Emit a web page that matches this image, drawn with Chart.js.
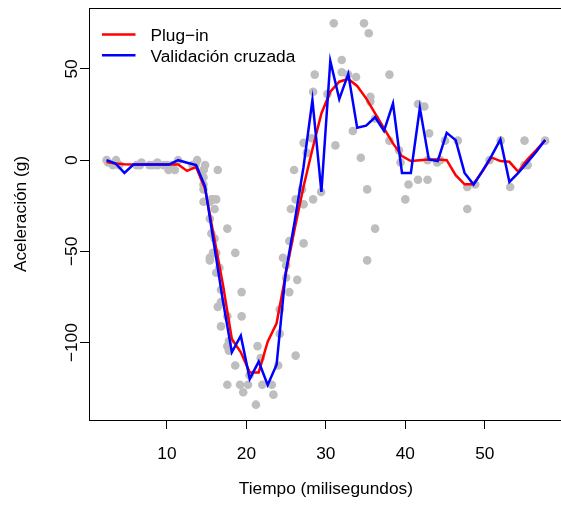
<!DOCTYPE html>
<html>
<head>
<meta charset="utf-8">
<script src="https://cdn.jsdelivr.net/npm/chart.js@4/dist/chart.umd.min.js"></script>
<style>
html,body{margin:0;padding:0;overflow:hidden;background:#fff;}
#wrap{width:567px;height:505px;}
</style>
</head>
<body>
<div id="wrap"><canvas id="c" width="567" height="505"></canvas></div>
<script>
// mcycle data (time in ms, acceleration in g)
const times = [2.4,2.6,3.2,3.6,4.0,6.2,6.6,6.8,7.8,8.2,8.8,8.8,9.6,10.0,10.2,
10.6,11.0,11.4,13.2,13.6,13.8,14.6,14.6,14.6,14.6,14.6,14.6,14.8,15.4,15.4,
15.4,15.4,15.6,15.6,15.8,15.8,16.0,16.0,16.2,16.2,16.2,16.4,16.4,16.6,16.8,
16.8,16.8,17.6,17.6,17.6,17.6,17.8,17.8,18.6,18.6,19.2,19.4,19.4,19.6,20.2,
20.4,21.2,21.4,21.8,22.0,23.2,23.4,24.0,24.2,24.2,24.6,25.0,25.0,25.4,25.4,
25.6,26.0,26.2,26.2,26.4,27.0,27.2,27.2,27.2,27.6,28.2,28.4,28.4,28.6,29.4,
30.2,31.0,31.2,32.0,32.0,32.8,33.4,33.8,34.4,34.8,35.2,35.2,35.4,35.6,35.6,
36.2,36.2,38.0,38.0,39.2,39.4,40.0,40.4,41.6,41.6,42.4,42.8,42.8,43.0,44.0,
44.4,45.0,46.6,47.8,47.8,48.8,50.6,52.0,53.2,55.0,55.0,55.4,57.6];
const accel = [0.0,-1.3,-2.7,0.0,-2.7,-2.7,-2.7,-1.3,-2.7,-2.7,
-1.3,-2.7,-2.7,-2.7,-5.4,-2.7,-5.4,0.0,-2.7,-2.7,
0.0,-13.3,-5.4,-5.4,-9.3,-16.0,-22.8,-2.7,-22.8,-32.1,
-53.5,-54.9,-40.2,-21.5,-21.5,-50.8,-42.9,-26.8,-21.5,-50.8,
-61.7,-5.4,-80.4,-59.0,-71.0,-91.1,-77.7,-37.5,-85.6,-123.1,
-101.9,-99.1,-104.4,-112.5,-50.8,-123.1,-85.6,-72.3,-127.2,-123.1,
-117.9,-134.0,-101.9,-108.4,-123.1,-123.1,-128.5,-112.5,-95.1,-81.8,
-53.5,-64.4,-57.6,-72.3,-44.3,-26.8,-5.4,-107.1,-21.5,-65.6,
-16.0,-45.6,-24.2,9.5,4.0,12.0,-21.5,37.5,46.9,-17.4,
36.2,75.0,8.1,54.9,48.2,46.9,16.0,45.6,1.3,75.0,
-16.0,-54.9,69.6,34.8,32.1,-37.5,22.8,46.9,10.7,5.4,
-1.3,-21.5,-13.3,30.8,-10.7,29.4,0.0,-10.7,14.7,-1.3,
0.0,10.7,10.7,-26.8,-14.7,-13.3,0.0,10.7,-14.7,-2.7,
10.7,-2.7,10.7];

// evaluation grid of the smoothers
const gridX = [2.40,3.53,4.65,5.78,6.91,8.03,9.16,10.29,11.41,12.54,
13.67,14.79,15.92,17.04,18.17,19.30,20.42,21.55,22.68,23.80,
24.93,26.06,27.18,28.31,29.44,30.56,31.69,32.82,33.94,35.07,
36.20,37.32,38.45,39.58,40.70,41.83,42.96,44.08,45.21,46.34,
47.46,48.59,49.72,50.84,51.97,53.10,54.22,55.35,56.48,57.60];
const plugIn = [-1,-1.8,-2.2,-2.4,-2.4,-2.4,-2.4,-2.4,-2.4,-5.9,
-3.7,-15.6,-42,-68,-98,-105.3,-116.3,-116.3,-99.5,-89.4,
-63,-38,-14.7,6,25.6,37.5,43,44.5,40.7,33.9,
25.6,17.4,9.2,2.2,-0.5,0,0.4,0.4,0,-8.2,
-13.2,-13.2,-5.9,1.5,-0.5,-0.9,-6.4,0.4,5.5,11];
const crossVal = [0,-1.8,-7,-2.4,-2.4,-2.4,-2.4,-2.4,0,-1.4,
-2.7,-14.3,-46,-77,-105.3,-96.2,-119.9,-110.4,-123.2,-112.1,
-62,-34,-4,33,-17.4,54.4,33.5,47.3,17.8,18.9,
23.5,16.1,31.1,-7,-7,28.7,0.4,-0.5,15,11,
-7,-13.4,-5.9,2.2,11.4,-11.9,-7,-1.3,4.6,11];

const xTicks = [10,20,30,40,50];
const yTicks = [-100,-50,0,50];
const seriesNames = ["Plug\u2212in","Validaci\u00f3n cruzada"];
const xTitle = "Tiempo (milisegundos)";
const yTitle = "Aceleraci\u00f3n (g)";

const FONT = '17.3px "Liberation Sans", Arial, Helvetica, sans-serif';

function txt(ctx, s, x, y, align, rotated){
  ctx.save();
  ctx.translate(x, y);
  if (rotated) ctx.rotate(-Math.PI/2);
  ctx.font = FONT;
  ctx.fillStyle = '#000';
  ctx.textAlign = align;
  ctx.textBaseline = 'alphabetic';
  ctx.fillText(s, 0, 0);
  ctx.restore();
}

const decor = {
  id: 'decor',
  afterDraw(chart){
    const ctx = chart.ctx, a = chart.chartArea;
    const xs = chart.scales.x, ys = chart.scales.y;
    // box top & right
    ctx.save();
    ctx.strokeStyle = '#000'; ctx.lineWidth = 1;
    ctx.beginPath();
    ctx.moveTo(Math.round(a.left)+0.5, Math.round(a.top)+0.5);
    ctx.lineTo(Math.round(a.right)+0.5, Math.round(a.top)+0.5);
    ctx.lineTo(Math.round(a.right)+0.5, Math.round(a.bottom)+0.5);
    ctx.stroke();
    ctx.restore();
    // tick labels
    xTicks.forEach(v => txt(ctx, String(v), xs.getPixelForValue(v), 458.8, 'center', false));
    yTicks.forEach(v => txt(ctx, String(v).replace('-', '\u2212'), 77, ys.getPixelForValue(v), 'center', true));
    // axis titles
    txt(ctx, xTitle, (a.left + a.right)/2, 494, 'center', false);
    txt(ctx, yTitle, 26, (a.top + a.bottom)/2, 'center', true);
    // legend
    const cols = ['#FF0000', '#0000FF'];
    const ly = [34.5, 55.2];
    ctx.save();
    ctx.lineWidth = 2.5;
    for (let i = 0; i < 2; i++){
      ctx.strokeStyle = cols[i];
      ctx.beginPath();
      ctx.moveTo(102, ly[i]); ctx.lineTo(135.5, ly[i]);
      ctx.stroke();
      txt(ctx, seriesNames[i], 150.5, ly[i] + 6.3, 'left', false);
    }
    ctx.restore();
  }
};

const points = times.map((t, i) => ({x: t, y: accel[i]}));
const red = gridX.map((x, i) => ({x: x, y: plugIn[i]}));
const blue = gridX.map((x, i) => ({x: x, y: crossVal[i]}));

new Chart(document.getElementById('c'), {
  type: 'scatter',
  data: {
    datasets: [
      {label: seriesNames[1], type: 'line', data: blue, borderColor: '#0000FF', borderWidth: 2.5,
       pointRadius: 0, tension: 0, fill: false, order: 0},
      {label: seriesNames[0], type: 'line', data: red, borderColor: '#FF0000', borderWidth: 2.5,
       pointRadius: 0, tension: 0, fill: false, order: 1},
      {label: 'datos', data: points, backgroundColor: '#BEBEBE', borderWidth: 0,
       pointRadius: 4.3, order: 2}
    ]
  },
  options: {
    responsive: false,
    animation: false,
    devicePixelRatio: 1,
    layout: {padding: {top: 8, right: 1, left: 0, bottom: 0}},
    plugins: {legend: {display: false}, tooltip: {enabled: false}},
    scales: {
      x: {
        type: 'linear', min: 0.192, max: 59.808,
        afterBuildTicks: s => { s.ticks = xTicks.map(v => ({value: v})); },
        afterFit: s => { s.height = 85; },
        ticks: {display: false},
        grid: {display: true, drawOnChartArea: false, drawTicks: true, tickLength: 9, color: '#000', lineWidth: 1},
        border: {display: true, color: '#000', width: 1}
      },
      y: {
        type: 'linear', min: -142.4, max: 83.4,
        afterBuildTicks: s => { s.ticks = yTicks.map(v => ({value: v})); },
        afterFit: s => { s.width = 89; },
        ticks: {display: false},
        grid: {display: true, drawOnChartArea: false, drawTicks: true, tickLength: 9, color: '#000', lineWidth: 1},
        border: {display: true, color: '#000', width: 1}
      }
    }
  },
  plugins: [decor]
});
</script>
</body>
</html>
